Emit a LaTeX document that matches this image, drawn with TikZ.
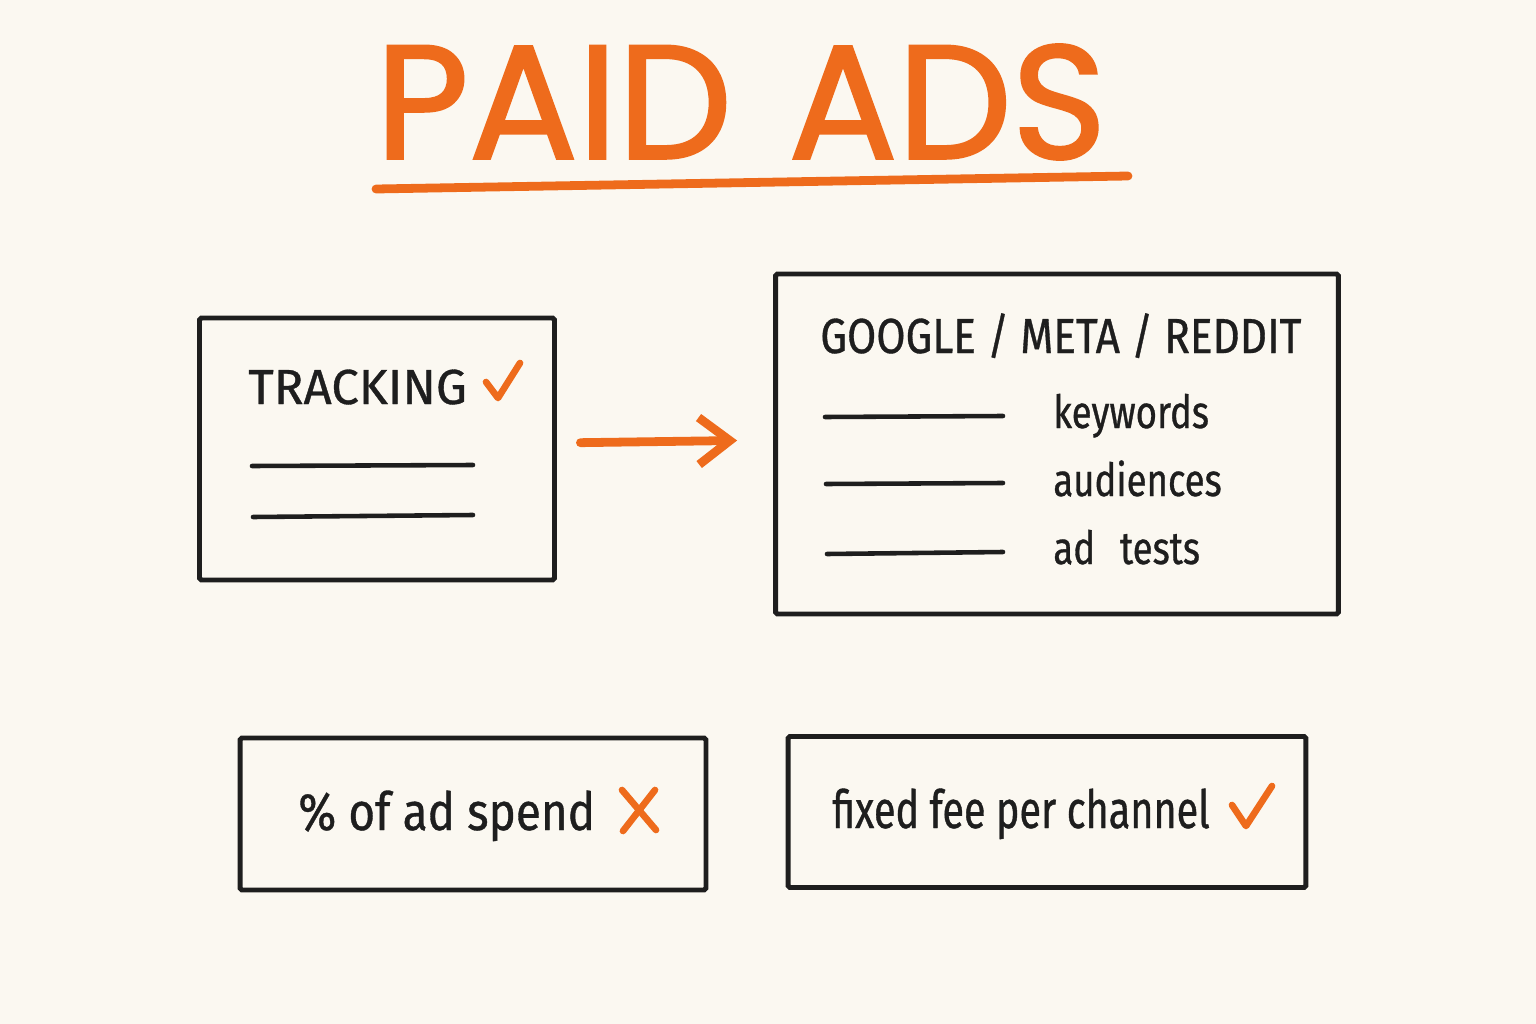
\documentclass[tikz,border=0pt]{standalone}
\usepackage{fontspec}
\setmainfont{Fira Sans}[FakeBold=0.7]
\newfontfamily\titlefont{Poppins}[FakeBold=1.6]
\usetikzlibrary{arrows.meta}
\definecolor{paper}{HTML}{FBF8F1}
\definecolor{accent}{HTML}{EE6B1C}
\definecolor{ink}{HTML}{1E1E1E}

\begin{document}
\begin{tikzpicture}[x=0.02cm, y=-0.02cm,
  panel/.style={draw=ink, line width=2.8pt, rounded corners=1pt},
  rule/.style={ink, line width=2.6pt, line cap=round},
  tick/.style={accent, line width=3.8pt, line cap=round, line join=round},
  label/.style={anchor=base west, text=ink, inner sep=0pt}]
  % Paper
  \fill[paper] (0,0) rectangle (1536,1024);
  \useasboundingbox (0,0) rectangle (1536,1024);

  % Title
  \node[text=accent, font=\titlefont\fontsize{92}{92}\selectfont] (title) at (741,102) {PAID\hspace{0.35em}ADS};
  \draw[accent, line width=5pt, line cap=round] (376,189) -- (1128,176);

  % Boxes
  \node[panel, minimum width=7.1cm, minimum height=5.24cm] (tracking) at (377,449) {};
  \node[panel, minimum width=11.26cm, minimum height=6.8cm] (platforms) at (1057,444) {};
  \node[panel, minimum width=9.32cm, minimum height=3.04cm] (percent) at (473,814) {};
  \node[panel, minimum width=10.36cm, minimum height=3.02cm] (fixedfee) at (1047,812) {};

  % Tracking
  \node[label, font=\fontsize{28}{28}\selectfont] (trackingtext) at (248,404) {TRACKING};
  \draw[tick] (486,382) -- (498,398) -- (520,363);
  \draw[rule] (252,466) -- (473,465);
  \draw[rule] (253,517) -- (473,515);

  \draw[accent, line width=5pt, line cap=round, line join=round, -{Straight Barb[length=0.62cm, width=0.94cm]},
    shorten <=0.47cm, shorten >=0.72cm] ([yshift=0.12cm]tracking.east) -- ([yshift=0.08cm]platforms.west);

  % Channels
  \node[label, font=\fontsize{28}{28}\selectfont\addfontfeatures{FakeStretch=0.86}] (channels) at (820,353) {GOOGLE / META / REDDIT};
  \draw[rule] (825,417) -- (1003,416);
  \draw[rule] (826,484) -- (1003,483);
  \draw[rule] (827,554) -- (1003,552);
  \node[label, font=\fontsize{26}{26}\selectfont\addfontfeatures{FakeStretch=0.8}] (keywords) at (1053,428) {keywords};
  \node[label, font=\fontsize{26}{26}\selectfont\addfontfeatures{FakeStretch=0.8}] (audiences) at (1053,496) {audiences};
  \node[label, font=\fontsize{26}{26}\selectfont\addfontfeatures{FakeStretch=0.8}] (adtests) at (1053,564) {ad\hspace{0.5cm}tests};

  % Pricing
  \node[label, font=\fontsize{30}{30}\selectfont\addfontfeatures{FakeStretch=0.87}] (percenttext) at (298,830) {\% of ad spend};
  \draw[tick] (622,790) -- (656,830);
  \draw[tick] (655,790) -- (623,831);
  \node[label, font=\fontsize{30}{30}\selectfont\addfontfeatures{FakeStretch=0.75}] (feetext) at (832,828) {fixed fee per channel};
  \draw[tick] (1232,805) -- (1246,826) -- (1272,786);
\end{tikzpicture}
\end{document}
